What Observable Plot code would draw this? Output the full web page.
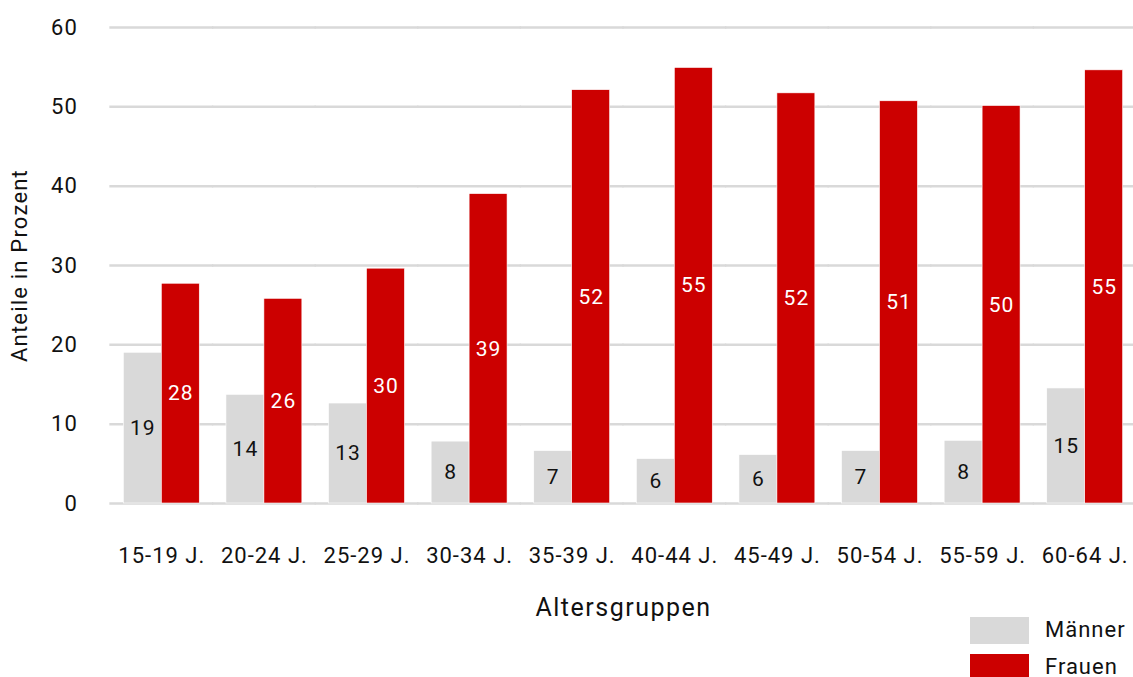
<!DOCTYPE html>
<html>
<head>
<meta charset="utf-8">
<script src="https://cdn.jsdelivr.net/npm/d3@7"></script>
<script src="https://cdn.jsdelivr.net/npm/@observablehq/plot@0.6"></script>
<style>
  html, body { margin: 0; padding: 0; background: #fff; }
  body { width: 1133px; height: 677px; overflow: hidden; position: relative; font-family: Roboto, "Noto Sans", sans-serif; }
  #legend { position: absolute; left: 970px; top: 612px; font-size: 22px; letter-spacing: 1px; color: #111; }
  .row { display: flex; align-items: center; height: 37px; }
  .row span { line-height: 1; position: relative; top: -1px; }
  .sw { width: 59px; height: 27px; margin-right: 16px; }
  g[aria-label="fx-axis tick label"] text, g[aria-label="y-axis tick label"] text { letter-spacing: 1px; }
  g[aria-label="fx-axis label"] text { font-size: 25px; letter-spacing: 1.5px; }
  g[aria-label="y-axis label"] text { font-size: 22px; letter-spacing: 1.2px; }
  g[aria-label="text"] text { letter-spacing: 1px; }
</style>
</head>
<body>
<div id="chart"></div>
<div id="legend"></div>
<script>
const categories = ["15-19 J.", "20-24 J.", "25-29 J.", "30-34 J.", "35-39 J.", "40-44 J.", "45-49 J.", "50-54 J.", "55-59 J.", "60-64 J."];
const maenner = [19.0, 13.7, 12.6, 7.8, 6.6, 5.6, 6.1, 6.6, 7.9, 14.5];
const frauen = [27.7, 25.8, 29.6, 39.0, 52.1, 54.9, 51.7, 50.7, 50.1, 54.6];
const series = ["Männer", "Frauen"];
const colors = ["#d9d9d9", "#cc0000"];
const labelColors = ["#111111", "#ffffff"];
const yTicks = [0, 10, 20, 30, 40, 50, 60];

const data = [];
categories.forEach((c, i) => {
  data.push({cat: c, sex: series[0], value: maenner[i]});
  data.push({cat: c, sex: series[1], value: frauen[i]});
});

const chart = Plot.plot({
  width: 1133,
  height: 627,
  marginLeft: 110,
  marginRight: -3,
  marginTop: 27,
  marginBottom: 124,
  style: {fontFamily: "Roboto, 'Noto Sans', sans-serif", fontSize: "20px", color: "#111", overflow: "visible"},
  fx: {domain: categories, paddingInner: 0.26, paddingOuter: 0.13, round: false},
  x: {domain: series, padding: 0, axis: null, round: false},
  y: {domain: [0, 60], axis: null},
  color: {domain: series, range: colors},
  marks: [
    Plot.ruleY(yTicks, {stroke: "#d9d9d9", strokeWidth: 2.5, insetLeft: -14, insetRight: -14}),
    Plot.barY(data, {fx: "cat", x: "sex", y: "value", fill: "sex", stroke: "#ffffff", strokeWidth: 0.6}),
    Plot.text(data, {fx: "cat", x: "sex", y: d => d.value / 2, text: d => String(Math.round(d.value)),
      fill: d => labelColors[series.indexOf(d.sex)], fontSize: 21}),
    Plot.axisY(yTicks, {anchor: "left", tickSize: 0, tickPadding: 46, fontSize: 22,
      label: "Anteile in Prozent", labelAnchor: "center", labelOffset: 112, labelArrow: "none"}),
    Plot.axisFx({anchor: "bottom", tickSize: 0, tickPadding: 44, fontSize: 22,
      label: "Altersgruppen", labelAnchor: "center", labelOffset: 112, labelArrow: "none"})
  ]
});
document.getElementById("chart").appendChild(chart);

const legend = document.getElementById("legend");
series.forEach((s, i) => {
  const row = document.createElement("div");
  row.className = "row";
  const sw = document.createElement("div");
  sw.className = "sw";
  sw.style.background = colors[i];
  const t = document.createElement("span");
  t.textContent = s;
  row.appendChild(sw);
  row.appendChild(t);
  legend.appendChild(row);
});
</script>
</body>
</html>
